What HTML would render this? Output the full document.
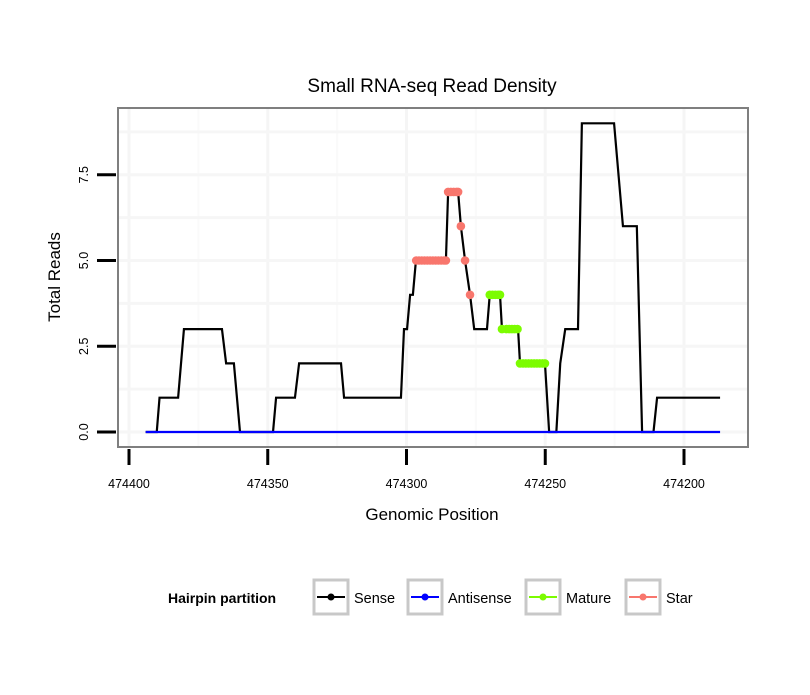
<!DOCTYPE html>
<html><head><meta charset="utf-8"><style>
body{margin:0;background:#fff;font-family:"Liberation Sans",sans-serif}
</style></head><body>
<svg id="c" width="810" height="690" xmlns="http://www.w3.org/2000/svg" style="font-family:'Liberation Sans',sans-serif">
<rect width="810" height="690" fill="#fff"/>
<text x="432" y="92" font-size="19" text-anchor="middle">Small RNA-seq Read Density</text>
<g id="grid"></g>
<g id="marks"></g>
<rect x="118" y="108" width="630" height="339" fill="none" stroke="#7f7f7f" stroke-width="2"/>
<g id="axes"></g>
<text x="432" y="520" font-size="17" text-anchor="middle">Genomic Position</text>
<text transform="translate(60,277) rotate(-90)" font-size="17" text-anchor="middle">Total Reads</text>
<g id="legend"></g>
</svg>
<script>
const xTicks=[474400,474350,474300,474250,474200];
const yTicks=[0,2.5,5.0,7.5];
const yTickLabels=["0.0","2.5","5.0","7.5"];
const sensePos=[474394,474390,474389,474382.3,474380.2,474366.5,474365,474362.2,474360,474348.1,474347,474340.2,474338.7,474323.6,474322.5,474302,474300.9,474299.8,474298.7,474297.7,474296.6,474285.8,474285,474281.4,474280.4,474278.9,474277.1,474275.6,474271,474270,474266.3,474265.6,474259.8,474259.1,474250.1,474248.6,474246,474244.6,474242.8,474238.2,474236.8,474225.2,474222,474217,474215.1,474211,474209.7,474187];
const senseVal=[0,0,1,1,3,3,2,2,0,0,1,1,2,2,1,1,3,3,4,4,5,5,7,7,6,5,4,3,3,4,4,3,3,2,2,0,0,2,3,3,9,9,6,6,0,0,1,1];
const antiPos=[474394,474187];
const antiVal=[0,0];
const starPos=[474296.5,474295.5,474294.5,474293.5,474292.5,474291.5,474290.5,474289.5,474288.5,474287.5,474286.5,474285.8,474285,474284,474283,474282,474281.4,474280.4,474278.9,474277.1];
const starVal=[5,5,5,5,5,5,5,5,5,5,5,5,7,7,7,7,7,6,5,4];
const matPos=[474270,474269,474268,474267,474266.3,474265.6,474264,474263,474262,474261,474260,474259.1,474258,474257,474256,474255,474254,474253,474252,474251,474250.1];
const matVal=[4,4,4,4,4,3,3,3,3,3,3,2,2,2,2,2,2,2,2,2,2];
const NS="http://www.w3.org/2000/svg";
const X=p=>129+(474400-p)*2.775;
const Y=v=>432-v*34.3;
function mk(t,a,parent){const e=document.createElementNS(NS,t);for(const k in a)e.setAttribute(k,a[k]);document.getElementById(parent).appendChild(e);return e;}
[474375,474325,474275,474225].concat(xTicks).forEach(p=>{const e=mk('line',{x1:X(p),x2:X(p),y1:109,y2:446,stroke:p%50?'#fafafa':'#f5f5f5','stroke-width':p%50?2:3},'grid');

});
[1.25,3.75,6.25,8.75].concat(yTicks).forEach(v=>{const e=mk('line',{x1:119,x2:747,y1:Y(v),y2:Y(v),stroke:'#f6f6f6','stroke-width':3},'grid');

});
function line(pos,val,col,name){const e=mk('polyline',{points:pos.map((p,i)=>X(p)+','+Y(val[i])).join(' '),fill:'none',stroke:col,'stroke-width':2.2},'marks');

}
line(sensePos,senseVal,'#000','sense-line');
line(antiPos,antiVal,'#0000ff','antisense-line');
function pts(pos,val,col,name){pos.forEach((p,i)=>{const e=mk('circle',{cx:X(p),cy:Y(val[i]),r:4.3,fill:col},'marks');

});}
pts(starPos,starVal,'#f8766d','star-point');
pts(matPos,matVal,'#7cfc00','mature-point');
xTicks.forEach(p=>{const t=mk('line',{x1:X(p),x2:X(p),y1:449,y2:465,stroke:'#000','stroke-width':3},'axes');


const l=mk('text',{x:X(p),y:488,'font-size':12.5,'text-anchor':'middle'},'axes');l.textContent=p;

});
yTicks.forEach((v,i)=>{const t=mk('line',{x1:97,x2:116,y1:Y(v),y2:Y(v),stroke:'#000','stroke-width':3},'axes');


const l=mk('text',{transform:`translate(88,${Y(v)}) rotate(-90)`,'font-size':12.5,'text-anchor':'middle'},'axes');l.textContent=yTickLabels[i];

});
const lt=mk('text',{x:168,y:603,'font-size':14,'font-weight':'bold'},'legend');lt.textContent='Hairpin partition';


const legNames=['Sense','Antisense','Mature','Star'];
const legCols=['#000','#0000ff','#7cfc00','#f8766d'];
const legX=[314,408,526,626];
legNames.forEach((n,i)=>{const x=legX[i];
const b=mk('rect',{x:x,y:580,width:34,height:34,fill:'#fff',stroke:'#c8c8c8','stroke-width':3},'legend');


mk('line',{x1:x+3,x2:x+31,y1:597,y2:597,stroke:legCols[i],'stroke-width':2},'legend');
mk('circle',{cx:x+17,cy:597,r:3.5,fill:legCols[i]},'legend');
const t=mk('text',{x:x+40,y:603,'font-size':14.5},'legend');t.textContent=n;

});
</script>
</body></html>
